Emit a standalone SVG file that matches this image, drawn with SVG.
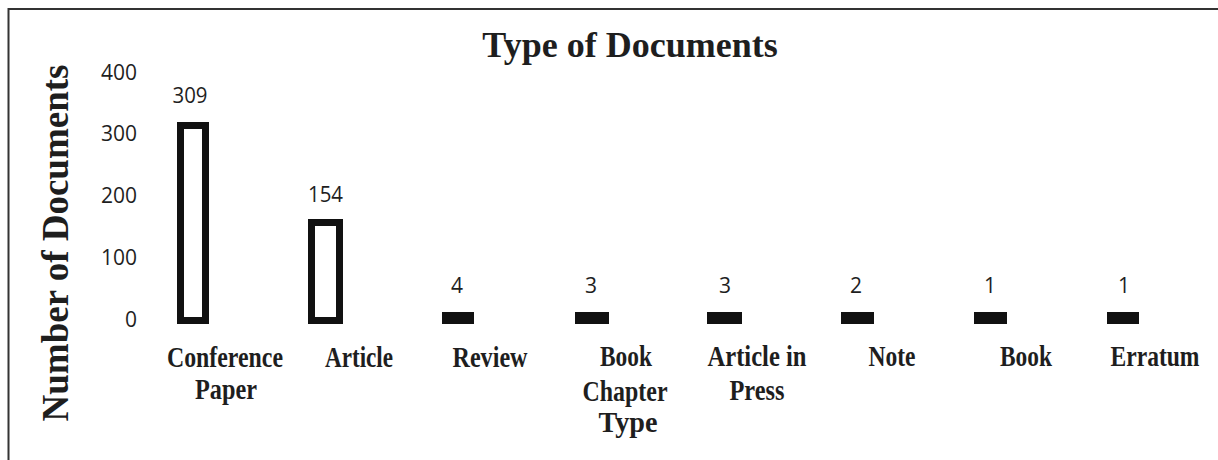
<svg xmlns="http://www.w3.org/2000/svg" width="1218" height="460" viewBox="0 0 1218 460">
  <style>
    .frame { stroke: #333; stroke-width: 2; fill: none; }
    .title { font-family: "Liberation Serif", "Times New Roman", serif; font-weight: bold; font-size: 36px; fill: #1e1e1e; text-anchor: middle; }
    .ytitle { font-family: "Liberation Serif", "Times New Roman", serif; font-weight: bold; font-size: 37px; fill: #1e1e1e; text-anchor: middle; }
    .cat { font-family: "Liberation Serif", "Times New Roman", serif; font-weight: bold; font-size: 29px; fill: #1e1e1e; text-anchor: middle; }
    .tick { font-family: "Open Sans", "Liberation Sans", sans-serif; font-size: 21px; fill: #1e1e1e; text-anchor: end; }
    .val { font-family: "Open Sans", "Liberation Sans", sans-serif; font-size: 21px; fill: #1e1e1e; text-anchor: middle; }
    .hollow { fill: #fff; stroke: #111; stroke-width: 7; }
    .solid { fill: #111; }
  </style>

  <rect x="0" y="0" width="1218" height="460" fill="#fff"/>
  <path class="frame" d="M 1218 9 L 8.5 9 L 8.5 460"/>

  <text class="title" x="630" y="57">Type of Documents</text>
  <text class="ytitle" transform="translate(68,243) rotate(-90)">Number of Documents</text>

  <g id="y-axis">
    <text class="tick" x="137" y="80">400</text>
    <text class="tick" x="137" y="141">300</text>
    <text class="tick" x="137" y="203">200</text>
    <text class="tick" x="137" y="265">100</text>
    <text class="tick" x="137" y="327">0</text>
  </g>

  <g id="x-axis-title">
    <text class="cat" x="628" y="432" textLength="59" lengthAdjust="spacingAndGlyphs">Type</text>
  </g>

  <g id="connectors"></g>

  <g id="conference-paper">
    <rect class="hollow" x="180.5" y="125.5" width="25" height="195"/>
    <text class="val" x="190" y="103" textLength="35" lengthAdjust="spacingAndGlyphs">309</text>
    <text class="cat" x="225" y="367" textLength="116" lengthAdjust="spacingAndGlyphs">Conference</text>
    <text class="cat" x="226" y="399" textLength="62" lengthAdjust="spacingAndGlyphs">Paper</text>
  </g>

  <g id="article">
    <rect class="hollow" x="311.5" y="222.5" width="28" height="98"/>
    <text class="val" x="325.5" y="202" textLength="35" lengthAdjust="spacingAndGlyphs">154</text>
    <text class="cat" x="359" y="367" textLength="68" lengthAdjust="spacingAndGlyphs">Article</text>
  </g>

  <g id="review">
    <rect class="solid" x="442" y="312" width="32" height="12"/>
    <text class="val" x="457" y="293">4</text>
    <text class="cat" x="490" y="367" textLength="75" lengthAdjust="spacingAndGlyphs">Review</text>
  </g>

  <g id="book-chapter">
    <rect class="solid" x="575" y="312" width="34" height="12"/>
    <text class="val" x="591" y="293">3</text>
    <text class="cat" x="626" y="366" textLength="52" lengthAdjust="spacingAndGlyphs">Book</text>
    <text class="cat" x="625" y="401" textLength="85" lengthAdjust="spacingAndGlyphs">Chapter</text>
  </g>

  <g id="article-in-press">
    <rect class="solid" x="707" y="312" width="35" height="12"/>
    <text class="val" x="725" y="293">3</text>
    <text class="cat" x="757" y="366" textLength="99" lengthAdjust="spacingAndGlyphs">Article in</text>
    <text class="cat" x="757" y="400" textLength="55" lengthAdjust="spacingAndGlyphs">Press</text>
  </g>

  <g id="note">
    <rect class="solid" x="841" y="312" width="33" height="12"/>
    <text class="val" x="856" y="293">2</text>
    <text class="cat" x="892" y="366" textLength="47" lengthAdjust="spacingAndGlyphs">Note</text>
  </g>

  <g id="book">
    <rect class="solid" x="974" y="312" width="33" height="12"/>
    <text class="val" x="990" y="293">1</text>
    <text class="cat" x="1026" y="366" textLength="52" lengthAdjust="spacingAndGlyphs">Book</text>
  </g>

  <g id="erratum">
    <rect class="solid" x="1107" y="312" width="32" height="12"/>
    <text class="val" x="1124" y="293">1</text>
    <text class="cat" x="1155" y="366" textLength="89" lengthAdjust="spacingAndGlyphs">Erratum</text>
  </g>
</svg>
